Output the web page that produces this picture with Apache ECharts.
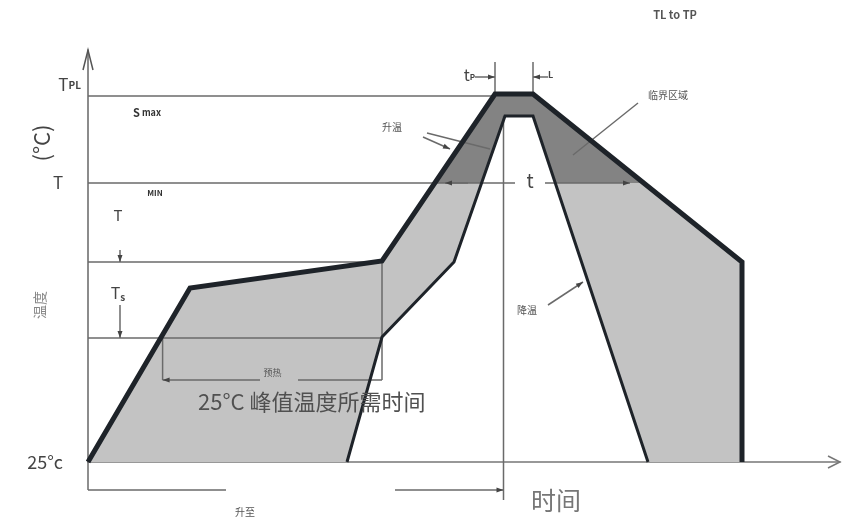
<!DOCTYPE html>
<html><head><meta charset="utf-8">
<script src="https://cdn.jsdelivr.net/npm/echarts@6/dist/echarts.min.js"></script>
<style>html,body{margin:0;padding:0;background:#fff}#c{width:843px;height:521px}</style>
</head><body><div id="c"></div>
<script>
// Reflow soldering profile: x = time, y = temperature level (relative units)
const outerProfile = [[0,0],[51,43.5],[147,50.25],[203.5,92],[222.5,92],[327,50],[327,0]];
const innerProfile = [[129.5,0],[147,31.25],[183,50],[208.5,86.5],[222.5,86.5],[280,0]];

const levelTP = 91.5;
const levelTL = 69.75;
const levelTsMax = 50;
const levelTsMin = 31;
const levelPreheat = 20.5;
const levelBelow = -7;

const timePeakStart = 203.5;
const timePeakEnd = 222.5;
const timePeakMid = 207.75;
const timeSoakEnd = 147;
const timePreheatStart = 37.3;

// guide lines: [points, arrowAtEnd]
const guideLines = [
  [[[0,levelTP],[timePeakStart,levelTP]], false],
  [[[0,levelTL],[213.5,levelTL]], false],
  [[[190,levelTL],[178.5,levelTL]], true],
  [[[228.5,levelTL],[271,levelTL]], true],
  [[[0,levelTsMax],[timeSoakEnd,levelTsMax]], false],
  [[[0,levelTsMin],[timeSoakEnd,levelTsMin]], false],
  [[[timeSoakEnd,levelTsMax],[timeSoakEnd,levelPreheat]], false],
  [[[timePreheatStart,levelTsMin],[timePreheatStart,levelPreheat]], false],
  [[[86,levelPreheat],[timePreheatStart,levelPreheat]], true],
  [[[105,levelPreheat],[timeSoakEnd,levelPreheat]], false],
  [[[timePeakMid,86.5],[timePeakMid,-9.5]], false],
  [[[0,0],[0,levelBelow]], false],
  [[[0,levelBelow],[69,levelBelow]], false],
  [[[153.5,levelBelow],[timePeakMid,levelBelow]], true],
  [[[timePeakStart,92],[timePeakStart,100]], false],
  [[[193.5,96.25],[timePeakStart,96.25]], true],
  [[[timePeakEnd,92],[timePeakEnd,100]], false],
  [[[230,96.25],[timePeakEnd,96.25]], true],
  [[[16,53],[16,levelTsMax]], true],
  [[[16,39.25],[16,levelTsMin]], true],
  [[[169.5,82.25],[201,78.25]], false],
  [[[167.5,81.25],[181,78.25]], true],
  [[[275,89.75],[242.5,76.75]], false],
  [[[230,39.25],[247.5,45]], true]
];

// text labels: [x, y, text, style]
const labels = [
  [293.5, 111.75, 'TL to TP', {fontSize:11, fontWeight:'bold', fill:'#555', align:'center'}],
  [-3.5, 94.25, '{a|T}{b|PL}', {align:'right', rich:{a:{fontSize:17, fill:'#444'}, b:{fontSize:10, fontWeight:'bold', fill:'#444'}}}],
  [-23, 79.75, '(°C)', {fontSize:22, fill:'#444', align:'center', rotation:Math.PI/2}],
  [-15, 69.75, 'T', {fontSize:17, fill:'#444', align:'center'}],
  [22.5, 87.25, '{a|S}{b| max}', {align:'left', rich:{a:{fontSize:11, fontWeight:'bold', fill:'#333'}, b:{fontSize:9, fontWeight:'bold', fill:'#333'}}}],
  [33.5, 67.25, 'MIN', {fontSize:8, fontWeight:'bold', fill:'#333', align:'center'}],
  [15, 61.75, 'T', {fontSize:15, fill:'#444', align:'center'}],
  [15, 42.25, '{a|T}{b|s}', {align:'center', rich:{a:{fontSize:16, fill:'#444'}, b:{fontSize:10, fontWeight:'bold', fill:'#444', padding:[8,0,0,0]}}}],
  [-24, 39.25, '温度', {fontSize:14, fill:'#888', align:'center', rotation:Math.PI/2}],
  [-12.5, 0, '25°c', {fontSize:18, fill:'#444', align:'right'}],
  [92.25, 22.25, '预热', {fontSize:9, fill:'#555', align:'center'}],
  [55, 15, '25°C 峰值温度所需时间', {fontSize:22, fill:'#505050', align:'left'}],
  [78.5, -12.5, '升至', {fontSize:10, fill:'#555', align:'center'}],
  [234, -9.5, '时间', {fontSize:25, fill:'#777', align:'center'}],
  [193.5, 96.75, '{a|t}{b|P}', {align:'right', rich:{a:{fontSize:16, fill:'#444'}, b:{fontSize:8, fontWeight:'bold', fill:'#444', padding:[4,0,0,0]}}}],
  [230, 96.75, 'L', {fontSize:9, fontWeight:'bold', fill:'#444', align:'left'}],
  [152, 83.75, '升温', {fontSize:10, fill:'#555', align:'center'}],
  [290, 91.75, '临界区域', {fontSize:10, fill:'#555', align:'center'}],
  [219.5, 38, '降温', {fontSize:10, fill:'#555', align:'center'}],
  [221, 70.25, 't', {fontSize:19, fill:'#444', align:'center'}]
];

const FONT = "'Noto Sans CJK SC','Noto Sans',sans-serif";
const INK = '#1e2329';
const GUIDE = '#6a6a6a';

// band between the two profiles, and the part above the liquidus level
function clipAbove(poly, level) {
  const out = [];
  for (let i = 0; i < poly.length; i++) {
    const a = poly[i], b = poly[(i + 1) % poly.length];
    const ain = a[1] >= level, bin = b[1] >= level;
    if (ain) out.push(a);
    if (ain !== bin) {
      const t = (level - a[1]) / (b[1] - a[1]);
      out.push([a[0] + t * (b[0] - a[0]), level]);
    }
  }
  return out;
}
const band = outerProfile.concat(innerProfile.slice().reverse());
const criticalZone = clipAbove(band, levelTL);

function arrowHead(p0, p1, len, half, color) {
  const dx = p1[0] - p0[0], dy = p1[1] - p0[1];
  const d = Math.hypot(dx, dy) || 1;
  const ux = dx / d, uy = dy / d;
  const bx = p1[0] - ux * len, by = p1[1] - uy * len;
  return {type:'polygon', shape:{points:[p1,[bx - uy*half, by + ux*half],[bx + uy*half, by - ux*half]]}, style:{fill:color}};
}
function openArrow(p0, p1, len, half, color) {
  const dx = p1[0] - p0[0], dy = p1[1] - p0[1];
  const d = Math.hypot(dx, dy) || 1;
  const ux = dx / d, uy = dy / d;
  const bx = p1[0] - ux * len, by = p1[1] - uy * len;
  return {type:'polyline', shape:{points:[[bx - uy*half, by + ux*half], p1, [bx + uy*half, by - ux*half]]}, style:{stroke:color, lineWidth:1.5, fill:null}};
}

function layer(z, build) {
  return {type:'custom', coordinateSystem:'cartesian2d', data:[0], z:z, silent:true, clip:false,
    renderItem: (params, api) => ({type:'group', children: build(api)})};
}

const chart = echarts.init(document.getElementById('c'), null, {renderer:'canvas'});
chart.setOption({
  animation:false,
  backgroundColor:'#fff',
  grid:{left:88, right:3, top:50, bottom:59},
  xAxis:{type:'value', min:0, max:376, axisLine:{show:true, lineStyle:{color:'#777', width:1.5}},
    axisTick:{show:false}, axisLabel:{show:false}, splitLine:{show:false}},
  yAxis:{type:'value', min:0, max:103, axisLine:{show:true, lineStyle:{color:'#666', width:1.5}},
    axisTick:{show:false}, axisLabel:{show:false}, splitLine:{show:false}},
  series:[
    layer(1, api => [
      {type:'polygon', shape:{points:band.map(p => api.coord(p))}, style:{fill:'#c3c3c3'}},
      {type:'polygon', shape:{points:criticalZone.map(p => api.coord(p))}, style:{fill:'#838383'}}
    ]),
    layer(2, api => {
      const out = [];
      guideLines.forEach(([pts, arrow]) => {
        const px = pts.map(p => api.coord(p));
        out.push({type:'polyline', shape:{points:px}, style:{stroke:GUIDE, lineWidth:1.5, fill:null}});
        if (arrow) out.push(arrowHead(px[px.length-2], px[px.length-1], 7, 2.5, '#444'));
      });
      // axis arrowheads
      out.push(openArrow(api.coord([0,0]), api.coord([0,103]), 20, 5, '#555'));
      out.push(openArrow(api.coord([0,0]), api.coord([376,0]), 12, 6, '#777'));
      return out;
    }),
    layer(3, api => [
      {type:'polyline', shape:{points:innerProfile.map(p => api.coord(p))}, style:{stroke:INK, lineWidth:3, fill:null, lineJoin:'miter'}},
      {type:'polyline', shape:{points:outerProfile.map(p => api.coord(p))}, style:{stroke:INK, lineWidth:5, fill:null, lineJoin:'miter'}}
    ]),
    layer(4, api => labels.map(([x, y, text, st]) => {
      const c = api.coord([x, y]);
      const style = {text:text, fontFamily:FONT, verticalAlign:'middle', align:st.align || 'left', fill:st.fill || '#444'};
      if (st.fontSize) style.fontSize = st.fontSize;
      if (st.fontWeight) style.fontWeight = st.fontWeight;
      if (st.rich) {
        style.rich = {};
        Object.keys(st.rich).forEach(k => { style.rich[k] = Object.assign({fontFamily:FONT}, st.rich[k]); });
      }
      return {type:'text', x:c[0], y:c[1], rotation:st.rotation || 0, style:style};
    }))
  ]
});
</script>
</body></html>
